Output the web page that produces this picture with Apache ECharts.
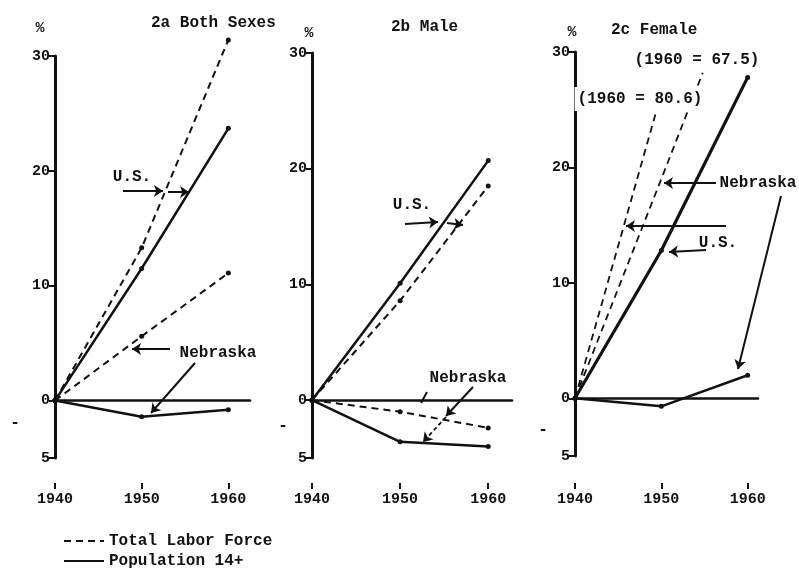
<!DOCTYPE html>
<html>
<head>
<meta charset="utf-8">
<script src="https://cdn.jsdelivr.net/npm/echarts@6/dist/echarts.min.js"></script>
<style>
  html, body { margin: 0; padding: 0; background: #fff; }
  #chart { width: 799px; height: 569px; }
</style>
</head>
<body>
<div id="chart"></div>
<script>
// percent change since 1940
const years = [1940, 1950, 1960];
const yTicks = [-5, 0, 10, 20, 30];

// 2a both sexes
const usBothLabor = [0, 13.3, 31.4];
const usBothPop = [0, 11.5, 23.7];
const nebBothLabor = [0, 5.6, 11.1];
const nebBothPop = [0, -1.4, -0.8];

// 2b male
const usMaleLabor = [0, 8.6, 18.5];
const usMalePop = [0, 10.1, 20.7];
const nebMaleLabor = [0, -1.0, -2.4];
const nebMalePop = [0, -3.6, -4.0];

// 2c female (labor force lines run off the scale, cut where the labels sit)
const usFemalePop = [0, 12.8, 27.8];
const nebFemalePop = [0, -0.7, 2.0];
const usFemaleLaborYears = [1940, 1950];
const usFemaleLabor = [0, 26.4];
const nebFemaleLaborYears = [1940, 1950, 1954.8];
const nebFemaleLabor = [0, 19.0, 28.2];

const FONT = 'Liberation Mono';
const INK = '#111';

const chart = echarts.init(document.getElementById('chart'));

const grids = [
  { left: 55, top: 56, width: 195, height: 402 },
  { left: 312, top: 53, width: 200, height: 405 },
  { left: 575, top: 52, width: 183, height: 404 }
];
const xMax = [1962.5, 1962.7, 1961.2];
const axisOffset = [25, 25, 27];
const pctGap = [28, 20, 20];
const pctPad = [[0, 30, 0, 0], [0, 6, 0, 0], [0, 6, 0, 0]];

const xAxes = [];
const yAxes = [];
grids.forEach((g, i) => {
  // labelled year axis, sitting below the plot
  xAxes.push({
    type: 'value', gridIndex: i, min: 1940, max: xMax[i], interval: 10,
    position: 'bottom', offset: axisOffset[i],
    axisLine: { show: false, onZero: false },
    axisTick: { show: true, length: 6, lineStyle: { color: INK, width: 2 } },
    axisLabel: { color: INK, fontFamily: FONT, fontWeight: 'bold', fontSize: 15, margin: 9,
      formatter: v => String(v) },
    splitLine: { show: false }
  });
  // the zero line
  xAxes.push({
    type: 'value', gridIndex: i, min: 1940, max: xMax[i],
    position: 'bottom',
    axisLine: { show: true, onZero: true, lineStyle: { color: INK, width: 2.5 } },
    axisTick: { show: false }, axisLabel: { show: false }, splitLine: { show: false }
  });
  yAxes.push({
    type: 'value', gridIndex: i, min: -5, max: 30,
    name: '%', nameLocation: 'end', nameGap: pctGap[i],
    nameTextStyle: { color: INK, fontFamily: FONT, fontWeight: 'bold', fontSize: 15,
      align: 'center', verticalAlign: 'middle', padding: pctPad[i] },
    axisLine: { show: true, onZero: false, lineStyle: { color: INK, width: 3 } },
    axisTick: { show: true, length: 6, customValues: yTicks, lineStyle: { color: INK, width: 2 } },
    axisLabel: { color: INK, fontFamily: FONT, fontWeight: 'bold', fontSize: 15, margin: 5,
      customValues: yTicks, formatter: v => String(Math.abs(v)) },
    splitLine: { show: false }
  });
});

const LABOR = 'Total Labor Force';
const POP = 'Population 14+';

function line(name, panel, xs, vals, opts) {
  opts = opts || {};
  return {
    name: name, type: 'line',
    xAxisIndex: panel * 2 + 1, yAxisIndex: panel,
    data: xs.map((x, k) => [x, vals[k]]),
    clip: false, silent: true,
    symbol: opts.noDots ? 'none' : 'circle', symbolSize: 5,
    itemStyle: { color: INK },
    lineStyle: {
      color: INK,
      width: opts.width || (name === LABOR ? 2 : 2.5),
      type: name === LABOR ? [7, 5] : 'solid'
    },
    markLine: opts.arrows ? {
      silent: true, symbol: ['none', 'arrow'], symbolSize: 9,
      label: { show: false },
      itemStyle: { color: INK },
      lineStyle: { color: INK, width: 2, type: 'solid' },
      data: opts.arrows
    } : undefined,
    z: 3
  };
}

function arrow(x1, y1, x2, y2, extra, plain) {
  const a = [{ x: x1, y: y1 }, { x: x2, y: y2 }];
  if (extra) Object.assign(a[0], extra);
  if (plain) a[1].symbol = 'none';
  return a;
}

const arrowsA = [
  arrow(123, 191, 163, 191),
  arrow(168, 192, 189, 192),
  arrow(170, 349, 132, 349),
  arrow(195, 363, 151, 413)
];
const arrowsB = [
  arrow(405, 224, 438, 222),
  arrow(447, 223, 463, 225),
  arrow(473, 387, 446, 416),
  arrow(446, 417, 423, 442, { lineStyle: { type: [4, 3], width: 1.8 } }),
  arrow(427, 392, 421, 403, null, true)
];
const arrowsC = [
  arrow(716, 183, 664, 183),
  arrow(781, 196, 738, 369),
  arrow(726, 226, 626, 226),
  arrow(706, 250, 669, 252)
];

const series = [
  line(LABOR, 0, years, usBothLabor),
  line(POP, 0, years, usBothPop, { arrows: arrowsA }),
  line(LABOR, 0, years, nebBothLabor),
  line(POP, 0, years, nebBothPop),

  line(LABOR, 1, years, usMaleLabor),
  line(POP, 1, years, usMalePop, { arrows: arrowsB }),
  line(LABOR, 1, years, nebMaleLabor),
  line(POP, 1, years, nebMalePop),

  line(LABOR, 2, usFemaleLaborYears, usFemaleLabor, { noDots: true, width: 1.8 }),
  line(LABOR, 2, nebFemaleLaborYears, nebFemaleLabor, { noDots: true, width: 1.8 }),
  line(POP, 2, years, usFemalePop, { width: 3.2, arrows: arrowsC }),
  line(POP, 2, years, nebFemalePop)
];

const titleStyle = { color: INK, fontFamily: FONT, fontWeight: 'bold', fontSize: 16 };

function note(text, x, y, boxed) {
  return {
    type: 'text', x: x, y: y, z: 100,
    style: Object.assign({
      text: text, fill: INK, font: 'bold 16px "' + FONT + '"',
      align: 'center', verticalAlign: 'middle'
    }, boxed ? { backgroundColor: '#fff', padding: [4, 3] } : {})
  };
}

chart.setOption({
  animation: false,
  backgroundColor: '#fff',
  title: [
    { text: '2a Both Sexes', left: 151, top: 15, textStyle: titleStyle, padding: 0 },
    { text: '2b Male', left: 391, top: 19, textStyle: titleStyle, padding: 0 },
    { text: '2c Female', left: 611, top: 22, textStyle: titleStyle, padding: 0 }
  ],
  grid: grids,
  xAxis: xAxes,
  yAxis: yAxes,
  legend: {
    data: [LABOR, POP],
    orient: 'vertical', left: 63, top: 533, padding: 0,
    itemWidth: 40, itemHeight: 14, itemGap: 4,
    itemStyle: { opacity: 0 },
    selectedMode: false,
    textStyle: { color: INK, fontFamily: FONT, fontWeight: 'bold', fontSize: 16 }
  },
  series: series,
  graphic: [
    note('U.S.', 132, 177),
    note('Nebraska', 218, 353),
    note('-', 15, 423),
    note('U.S.', 412, 205),
    note('Nebraska', 468, 378),
    note('-', 283, 426),
    note('(1960 = 67.5)', 697, 60, true),
    note('(1960 = 80.6)', 640, 99, true),
    note('Nebraska', 758, 183),
    note('U.S.', 718, 243),
    note('-', 543, 430)
  ]
});
</script>
</body>
</html>
